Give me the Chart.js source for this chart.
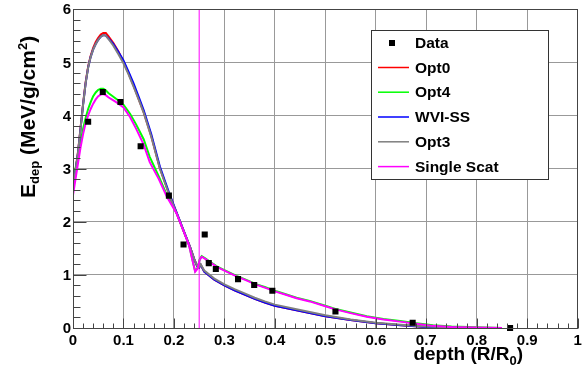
<!DOCTYPE html>
<html><head><meta charset="utf-8">
<script src="https://cdn.jsdelivr.net/npm/chart.js@4"></script>
<style>html,body{margin:0;padding:0;background:#fff;overflow:hidden}</style>
</head><body>
<canvas id="c" width="582" height="371"></canvas>
<script>
// ---- data ----
const dataDepth = [0.030, 0.059, 0.094, 0.134, 0.190, 0.219, 0.261, 0.269, 0.283, 0.327, 0.359, 0.395, 0.520, 0.673, 0.866];
const dataEdep  = [3.88, 4.44, 4.25, 3.42, 2.49, 1.57, 1.76, 1.22, 1.11, 0.92, 0.81, 0.70, 0.31, 0.10, 0.00];

const highDepth = [0, 0.005, 0.01, 0.015, 0.02, 0.025, 0.03, 0.035, 0.04, 0.045, 0.05, 0.055, 0.06, 0.065, 0.07, 0.08, 0.09, 0.1, 0.11, 0.12, 0.13, 0.14, 0.155, 0.172, 0.19, 0.205, 0.218, 0.232, 0.24, 0.246, 0.25, 0.253, 0.26, 0.28, 0.3, 0.32, 0.34, 0.36, 0.38, 0.4, 0.45, 0.5, 0.55, 0.6, 0.65, 0.7, 0.75, 0.77];
const opt0Edep  = [2.62, 2.97, 3.32, 3.77, 4.22, 4.62, 4.92, 5.12, 5.27, 5.38, 5.46, 5.52, 5.55, 5.55, 5.49, 5.36, 5.2, 5.01, 4.79, 4.56, 4.31, 4.06, 3.61, 3.01, 2.53, 2.17, 1.85, 1.52, 1.3, 1.16, 1.14, 1.19, 1.06, 0.91, 0.8, 0.71, 0.63, 0.55, 0.48, 0.42, 0.32, 0.22, 0.15, 0.09, 0.05, 0.02, 0.01, 0];
const wviEdep   = [2.6, 2.95, 3.3, 3.75, 4.2, 4.6, 4.9, 5.1, 5.24, 5.34, 5.42, 5.48, 5.51, 5.5, 5.45, 5.34, 5.19, 5.03, 4.82, 4.6, 4.35, 4.1, 3.65, 3.04, 2.55, 2.18, 1.86, 1.52, 1.3, 1.16, 1.14, 1.19, 1.06, 0.91, 0.8, 0.71, 0.63, 0.55, 0.48, 0.42, 0.32, 0.22, 0.15, 0.09, 0.05, 0.02, 0.01, 0];
const opt3Edep  = [2.6, 2.95, 3.3, 3.75, 4.2, 4.6, 4.9, 5.1, 5.24, 5.34, 5.42, 5.48, 5.51, 5.5, 5.44, 5.31, 5.15, 4.98, 4.77, 4.54, 4.3, 4.05, 3.6, 3.0, 2.52, 2.16, 1.85, 1.52, 1.3, 1.17, 1.15, 1.2, 1.08, 0.93, 0.82, 0.73, 0.65, 0.57, 0.5, 0.44, 0.34, 0.24, 0.16, 0.1, 0.06, 0.03, 0.01, 0];

const lowDepth = [0, 0.005, 0.01, 0.015, 0.02, 0.025, 0.03, 0.035, 0.04, 0.045, 0.05, 0.055, 0.06, 0.065, 0.07, 0.08, 0.09, 0.1, 0.113, 0.125, 0.14, 0.152, 0.17, 0.186, 0.205, 0.218, 0.23, 0.236, 0.242, 0.247, 0.251, 0.255, 0.262, 0.271, 0.285, 0.3, 0.324, 0.34, 0.364, 0.38, 0.403, 0.42, 0.443, 0.469, 0.5, 0.52, 0.55, 0.582, 0.615, 0.648, 0.68, 0.713, 0.75, 0.8, 0.85];
const opt4Edep = [2.7, 3.0, 3.25, 3.5, 3.75, 3.95, 4.12, 4.25, 4.36, 4.43, 4.48, 4.5, 4.5, 4.47, 4.42, 4.35, 4.28, 4.2, 4.03, 3.83, 3.55, 3.22, 2.85, 2.5, 2.17, 1.86, 1.56, 1.31, 1.07, 1.13, 1.29, 1.35, 1.31, 1.25, 1.16, 1.09, 0.98, 0.92, 0.82, 0.77, 0.69, 0.64, 0.57, 0.51, 0.42, 0.36, 0.29, 0.22, 0.17, 0.13, 0.09, 0.05, 0.03, 0.015, 0.0];
const singleScatEdep = [2.5, 2.8, 3.1, 3.4, 3.65, 3.85, 4.0, 4.12, 4.22, 4.3, 4.36, 4.39, 4.40, 4.38, 4.34, 4.28, 4.22, 4.15, 3.97, 3.75, 3.45, 3.12, 2.8, 2.47, 2.16, 1.85, 1.55, 1.3, 1.06, 1.12, 1.28, 1.34, 1.3, 1.24, 1.15, 1.08, 0.97, 0.91, 0.81, 0.76, 0.68, 0.63, 0.56, 0.5, 0.41, 0.35, 0.28, 0.21, 0.16, 0.12, 0.08, 0.04, 0.02, 0.01, 0.0];

const boundaryDepth = [0.25, 0.25];
const boundaryEdep = [0, 6];

const xTickValues = [0, 0.1, 0.2, 0.3, 0.4, 0.5, 0.6, 0.7, 0.8, 0.9, 1];
const xTickLabels = ['0', '0.1', '0.2', '0.3', '0.4', '0.5', '0.6', '0.7', '0.8', '0.9', '1'];
const yTickValues = [0, 1, 2, 3, 4, 5, 6];
const yTickLabels = ['0', '1', '2', '3', '4', '5', '6'];

// ---- build ----
const pts = (xs, ys) => xs.map((x, i) => ({x, y: ys[i]}));
const FONT = '"Liberation Sans", Arial, Helvetica, sans-serif';

function lineDs(label, xs, ys, color, order) {
  return {label, data: pts(xs, ys), borderColor: color, backgroundColor: color,
    borderWidth: 2, pointRadius: 0, tension: 0, fill: false, order, showLine: true};
}

const datasets = [
  {label: 'Data', data: pts(dataDepth, dataEdep), showLine: false, pointStyle: 'rect',
   pointRadius: 4.3, pointBackgroundColor: '#000', pointBorderColor: '#000', borderColor: '#000', backgroundColor: '#000', pointBorderWidth: 0, order: 0, clip: 6},
  lineDs('Opt0', highDepth, opt0Edep, '#ff0000', 5),
  lineDs('Opt4', lowDepth, opt4Edep, '#00ff00', 4),
  lineDs('WVI-SS', highDepth, wviEdep, '#0000ff', 3),
  lineDs('Opt3', highDepth, opt3Edep, '#7f7f7f', 2),
  lineDs('Single Scat', lowDepth, singleScatEdep, '#ff00ff', 1),
  {label: '_boundary', data: pts(boundaryDepth, boundaryEdep), borderColor: '#ff00ff', borderWidth: 1,
   pointRadius: 0, showLine: true, order: 6}
];

const rootPlugin = {
  id: 'rootStyle',
  afterDraw(chart) {
    const {ctx, chartArea: a, scales: {x, y}} = chart;
    ctx.save();
    // frame
    ctx.strokeStyle = '#444'; ctx.lineWidth = 1;
    ctx.strokeRect(Math.round(a.left) + 0.5, Math.round(a.top) + 0.5, Math.round(a.right - a.left) - 1, Math.round(a.bottom - a.top));
    // x ticks
    ctx.beginPath();
    const bx = Math.round(a.bottom) + 0.5;
    for (let i = 0; i <= 50; i++) {
      const v = i / 50;
      const px = Math.round(x.getPixelForValue(v)) + 0.5;
      const len = (i % 5 === 0) ? 10 : 5;
      ctx.moveTo(px, bx); ctx.lineTo(px, bx - len);
    }
    // y ticks
    const lx = Math.round(a.left) + 0.5;
    for (let i = 0; i <= 30; i++) {
      const v = i / 5;
      const py = Math.round(y.getPixelForValue(v)) + 0.5;
      const len = (i % 5 === 0) ? 13 : 7;
      ctx.moveTo(lx, py); ctx.lineTo(lx + len, py);
    }
    ctx.stroke();
    // tick labels
    ctx.fillStyle = '#000';
    ctx.font = 'bold 15px ' + FONT;
    ctx.textAlign = 'center'; ctx.textBaseline = 'alphabetic';
    xTickValues.forEach((v, i) => ctx.fillText(xTickLabels[i], x.getPixelForValue(v), 345));
    ctx.textAlign = 'right';
    yTickValues.forEach((v, i) => ctx.fillText(yTickLabels[i], 71, y.getPixelForValue(v) + 5.4));
    // x title
    drawRich(ctx, [['depth (R/R', 19, 0], ['0', 13, 5], [')', 19, 0]], 523, 360, 'right', false);
    // y title
    drawRich(ctx, [['E', 21, 0], ['dep', 13, 4], [' (MeV/g/cm', 21, 0], ['2', 13, -8], [')', 21, 0]], 35, 198, 'left', true);
    // legend
    const L = {l: 371, t: 30, r: 548, b: 179};
    ctx.fillStyle = '#fff';
    ctx.fillRect(L.l, L.t, L.r - L.l, L.b - L.t);
    ctx.strokeStyle = '#333'; ctx.lineWidth = 1;
    ctx.strokeRect(L.l + 0.5, L.t + 0.5, L.r - L.l, L.b - L.t);
    const rows = [42.7, 67.5, 92.2, 117, 141.8, 166.6];
    ctx.font = 'bold 15.5px ' + FONT;
    ctx.textAlign = 'left'; ctx.textBaseline = 'middle';
    const legendSets = chart.data.datasets.filter(d => !d.label.startsWith('_'));
    legendSets.forEach((d, i) => {
      const ry = rows[i];
      if (d.showLine === false) {
        ctx.fillStyle = '#000';
        ctx.fillRect(389, Math.round(ry) - 3, 6, 6);
      } else {
        ctx.strokeStyle = d.borderColor; ctx.lineWidth = 1.5;
        ctx.beginPath(); ctx.moveTo(378, ry); ctx.lineTo(409, ry); ctx.stroke();
      }
      ctx.fillStyle = '#000';
      ctx.fillText(d.label, 415, ry + 1);
    });
    ctx.restore();
  }
};

function drawRich(ctx, parts, x0, y0, align, rotate) {
  ctx.save();
  let total = 0;
  parts.forEach(p => { ctx.font = 'bold ' + p[1] + 'px ' + FONT; total += ctx.measureText(p[0]).width; });
  if (rotate) { ctx.translate(x0, y0); ctx.rotate(-Math.PI / 2); x0 = 0; y0 = 0; }
  let cx = align === 'right' ? x0 - total : x0;
  ctx.textAlign = 'left'; ctx.textBaseline = 'alphabetic'; ctx.fillStyle = '#000';
  parts.forEach(p => {
    ctx.font = 'bold ' + p[1] + 'px ' + FONT;
    ctx.fillText(p[0], cx, y0 + p[2]);
    cx += ctx.measureText(p[0]).width;
  });
  ctx.restore();
}

new Chart(document.getElementById('c'), {
  type: 'scatter',
  data: {datasets},
  options: {
    responsive: false, animation: false, devicePixelRatio: 1,
    layout: {padding: {left: 73, top: 9, right: 3, bottom: 43}},
    plugins: {legend: {display: false}, tooltip: {enabled: false}},
    scales: {
      x: {type: 'linear', min: 0, max: 1, ticks: {display: false, stepSize: 0.1},
          grid: {color: '#999', borderDash: [1, 2], drawTicks: false, lineWidth: 1},
          border: {display: false},
          afterFit: s => { s.height = 0; s.paddingLeft = s.paddingRight = 0; }},
      y: {type: 'linear', min: 0, max: 6, ticks: {display: false, stepSize: 1},
          grid: {color: '#999', borderDash: [1, 2], drawTicks: false, lineWidth: 1},
          border: {display: false},
          afterFit: s => { s.width = 0; s.paddingTop = s.paddingBottom = 0; }}
    }
  },
  plugins: [rootPlugin]
});
</script>
</body></html>
